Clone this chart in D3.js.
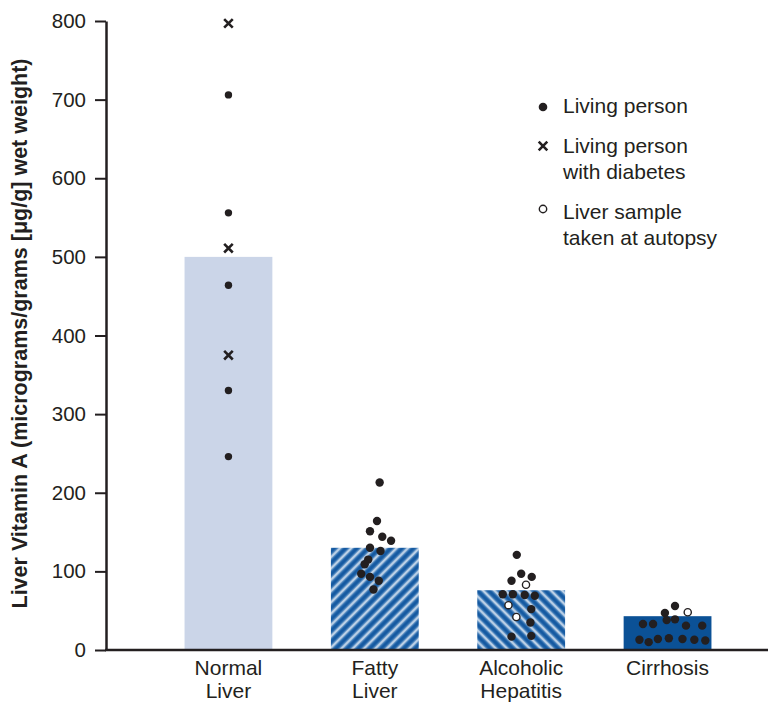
<!DOCTYPE html>
<html>
<head>
<meta charset="utf-8">
<script src="https://cdn.jsdelivr.net/npm/d3@7"></script>
<style>
  body { margin: 0; background: #fff; }
  svg { display: block; font-family: "Liberation Sans", Arial, Helvetica, sans-serif; }
</style>
</head>
<body>
<svg id="chart"></svg>
<script>
// categories and bar heights (mean liver vitamin A, µg/g)
const categories = ['Normal Liver', 'Fatty Liver', 'Alcoholic Hepatitis', 'Cirrhosis'];
const categoryLines = [['Normal', 'Liver'], ['Fatty', 'Liver'], ['Alcoholic', 'Hepatitis'], ['Cirrhosis']];
const meanValues = [500, 130, 76, 43];
const yTicks = [0, 100, 200, 300, 400, 500, 600, 700, 800];

// individual measurements, kind: dot = living person, x = living person with diabetes, o = autopsy
const normalValues = [797, 706, 556, 511, 464, 375, 330, 246];
const normalKinds  = ['x', 'dot', 'dot', 'x', 'dot', 'x', 'dot', 'dot'];
const normalJitter = [0, 0, 0, 0, 0, 0, 0, 0];

const fattyValues = [213, 164, 151, 144, 139, 130, 126, 115, 109, 97, 93, 88, 77];
const fattyKinds  = fattyValues.map(() => 'dot');
const fattyJitter = [0.11, 0.05, -0.11, 0.17, 0.37, -0.11, 0.13, -0.15, -0.23, -0.31, -0.11, 0.09, -0.03];

const alcoholicValues = [121, 97, 93, 88, 83, 71, 71, 70, 69, 57, 52, 42, 35, 17, 18];
const alcoholicKinds  = ['dot', 'dot', 'dot', 'dot', 'o', 'dot', 'dot', 'dot', 'dot', 'o', 'dot', 'o', 'dot', 'dot', 'dot'];
const alcoholicJitter = [-0.10, 0.0, 0.24, -0.22, 0.11, -0.42, -0.19, 0.08, 0.31, -0.29, 0.23, -0.11, 0.21, -0.22, 0.23];

const cirrhosisValues = [56, 48, 47, 38, 39, 33, 33, 31, 31, 13, 10, 14, 15, 14, 13, 12];
const cirrhosisKinds  = ['dot', 'o', 'dot', 'dot', 'dot', 'dot', 'dot', 'dot', 'dot', 'dot', 'dot', 'dot', 'dot', 'dot', 'dot', 'dot'];
const cirrhosisJitter = [0.17, 0.46, -0.06, -0.02, 0.17, -0.56, -0.33, 0.42, 0.79, -0.64, -0.43, -0.22, 0.03, 0.34, 0.61, 0.86];

const legendItems = [
  { kind: 'dot', lines: ['Living person'] },
  { kind: 'x', lines: ['Living person', 'with diabetes'] },
  { kind: 'o', lines: ['Liver sample', 'taken at autopsy'] }
];

const width = 768;
const height = 703;
const ink = '#231f20';

const svg = d3.select('#chart')
  .attr('width', width)
  .attr('height', height);

// scales
const xScale = d3.scaleBand()
  .domain(categories)
  .range([126, 770])
  .padding(0.4);

const yScale = d3.scaleLinear()
  .domain([0, 800])
  .range([650, 21]);

// jitter inside a bar: -1..1 -> half bar width
const jitterScale = d3.scaleLinear()
  .domain([-1, 1])
  .range([-xScale.bandwidth() / 2, xScale.bandwidth() / 2]);

// fills: solid for normal and cirrhosis, shaded stripes for the other two
const defs = svg.append('defs');
const stripeGrad = defs.append('linearGradient')
  .attr('id', 'stripe-grad')
  .attr('x1', '0%').attr('x2', '100%')
  .attr('y1', '0%').attr('y2', '0%');
stripeGrad.append('stop').attr('offset', '0%').attr('stop-color', '#0d529c');
stripeGrad.append('stop').attr('offset', '25%').attr('stop-color', '#2e6fb0');
stripeGrad.append('stop').attr('offset', '50%').attr('stop-color', '#eaf0f8');
stripeGrad.append('stop').attr('offset', '75%').attr('stop-color', '#2e6fb0');
stripeGrad.append('stop').attr('offset', '100%').attr('stop-color', '#0d529c');

function stripePattern(id, angle) {
  const p = defs.append('pattern')
    .attr('id', id)
    .attr('patternUnits', 'userSpaceOnUse')
    .attr('width', 8)
    .attr('height', 8)
    .attr('patternTransform', `rotate(${angle})`);
  p.append('rect')
    .attr('width', 8)
    .attr('height', 8)
    .attr('fill', 'url(#stripe-grad)');
}
stripePattern('stripes-up', 45);
stripePattern('stripes-down', -45);

const barFills = ['#cbd5e8', 'url(#stripes-up)', 'url(#stripes-down)', '#0b5196'];

svg.selectAll('.bar')
  .data(categories)
  .enter()
  .append('rect')
  .attr('class', 'bar')
  .attr('x', d => xScale(d))
  .attr('y', (d, i) => yScale(meanValues[i]))
  .attr('width', xScale.bandwidth())
  .attr('height', (d, i) => yScale(0) - yScale(meanValues[i]))
  .attr('fill', (d, i) => barFills[i]);

// collect points
const groups = [
  [normalValues, normalKinds, normalJitter],
  [fattyValues, fattyKinds, fattyJitter],
  [alcoholicValues, alcoholicKinds, alcoholicJitter],
  [cirrhosisValues, cirrhosisKinds, cirrhosisJitter]
];
const points = [];
groups.forEach(([vals, kinds, jit], gi) => {
  vals.forEach((v, j) => {
    points.push({ cat: categories[gi], value: v, kind: kinds[j], jitter: jit[j], small: gi === 0 });
  });
});

function drawMarker(g, kind, cx, cy, r) {
  if (kind === 'dot') {
    g.append('circle').attr('cx', cx).attr('cy', cy).attr('r', r).attr('fill', ink);
  } else if (kind === 'o') {
    g.append('circle').attr('cx', cx).attr('cy', cy).attr('r', r - 0.6)
      .attr('fill', '#fff').attr('stroke', ink).attr('stroke-width', 1.4);
  } else {
    const s = 4.3;
    g.append('path')
      .attr('d', `M${cx - s},${cy - s}L${cx + s},${cy + s}M${cx - s},${cy + s}L${cx + s},${cy - s}`)
      .attr('stroke', ink).attr('stroke-width', 2.6).attr('fill', 'none');
  }
}

const pointLayer = svg.append('g');
points.forEach(d => {
  const cx = xScale(d.cat) + xScale.bandwidth() / 2 + jitterScale(d.jitter);
  drawMarker(pointLayer, d.kind, cx, yScale(d.value), d.small ? 3.7 : 4.2);
});

// y axis
const yAxis = svg.append('g')
  .attr('transform', 'translate(106,0)')
  .call(d3.axisLeft(yScale).tickValues(yTicks).tickSize(11).tickSizeOuter(0).tickPadding(9));
yAxis.select('.domain').attr('stroke', ink).attr('stroke-width', 2.5);
yAxis.selectAll('.tick line').attr('stroke', ink).attr('stroke-width', 2);
yAxis.selectAll('.tick text')
  .attr('fill', ink)
  .attr('font-size', '20.5px')
  .attr('font-family', '"Liberation Sans", Arial, sans-serif');

// x baseline
svg.append('line')
  .attr('x1', 105)
  .attr('x2', width)
  .attr('y1', yScale(0))
  .attr('y2', yScale(0))
  .attr('stroke', ink)
  .attr('stroke-width', 2.5);

// category labels
const catLabels = svg.selectAll('.cat-label')
  .data(categories)
  .enter()
  .append('text')
  .attr('class', 'cat-label')
  .attr('text-anchor', 'middle')
  .attr('font-size', '21px')
  .attr('fill', ink);
catLabels.each(function(d, i) {
  const cx = xScale(d) + xScale.bandwidth() / 2;
  d3.select(this).selectAll('tspan')
    .data(categoryLines[i])
    .enter()
    .append('tspan')
    .attr('x', cx)
    .attr('y', (t, k) => 675 + k * 23)
    .text(t => t);
});

// y axis title
svg.append('text')
  .attr('transform', 'rotate(-90)')
  .attr('x', -yScale(400) + 2)
  .attr('y', 27)
  .attr('text-anchor', 'middle')
  .attr('font-size', '21.5px')
  .attr('font-weight', 'bold')
  .attr('fill', ink)
  .text('Liver Vitamin A (micrograms/grams [μg/g] wet weight)');

// legend
const legendX = 543;
const legendRows = [107, 146, 209];
const legendBase = [113, 153, 219];
const legend = svg.append('g');
legendItems.forEach((item, i) => {
  drawMarker(legend, item.kind, legendX, legendRows[i], 4.3);
  const t = legend.append('text')
    .attr('font-size', '21px')
    .attr('fill', ink);
  item.lines.forEach((line, k) => {
    t.append('tspan')
      .attr('x', legendX + 20)
      .attr('y', legendBase[i] + k * 25.5)
      .text(line);
  });
});
</script>
</body>
</html>
